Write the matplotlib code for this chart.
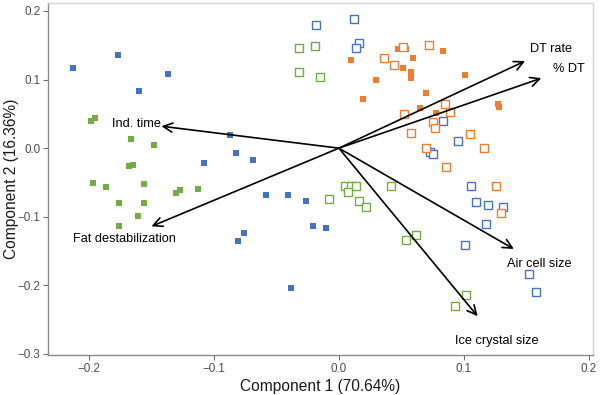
import matplotlib
matplotlib.use("Agg")
import matplotlib.pyplot as plt

plt.rcParams['font.family'] = ['Liberation Sans', 'DejaVu Sans']

# ---- data (PCA scores) ----
blue_filled_x = [-0.213, -0.177, -0.137, -0.160, -0.087, -0.082, -0.108, -0.069, -0.081, -0.076,
                 -0.058, -0.041, -0.026, -0.021, -0.010, -0.038]
blue_filled_y = [0.117, 0.136, 0.108, 0.083, 0.019, -0.007, -0.022, -0.017, -0.135, -0.124,
                 -0.068, -0.068, -0.077, -0.114, -0.117, -0.204]
blue_open_x = [-0.018, 0.012, 0.016, 0.014, 0.083, 0.095, 0.073, 0.075, 0.106, 0.110,
               0.119, 0.131, 0.118, 0.101, 0.152, 0.158]
blue_open_y = [0.179, 0.188, 0.154, 0.146, 0.039, 0.010, -0.006, -0.009, -0.055, -0.079,
               -0.083, -0.086, -0.111, -0.141, -0.184, -0.210]
orange_filled_x = [0.010, 0.047, 0.054, 0.059, 0.051, 0.058, 0.058, 0.030, 0.019, 0.065,
                   0.083, 0.101, 0.070, 0.078, 0.127, 0.128]
orange_filled_y = [0.128, 0.144, 0.144, 0.131, 0.117, 0.111, 0.103, 0.100, 0.071, 0.058,
                   0.141, 0.107, 0.080, 0.051, 0.064, 0.060]
orange_open_x = [0.072, 0.051, 0.036, 0.044, 0.052, 0.058, 0.085, 0.089, 0.075, 0.077,
                 0.105, 0.116, 0.070, 0.086, 0.126, 0.130]
orange_open_y = [0.150, 0.147, 0.131, 0.121, 0.050, 0.022, 0.064, 0.053, 0.038, 0.029,
                 0.020, 0.000, 0.000, -0.028, -0.055, -0.095]
green_filled_x = [-0.198, -0.195, -0.166, -0.148, -0.168, -0.165, -0.197, -0.186, -0.156, -0.176,
                  -0.156, -0.161, -0.176, -0.130, -0.127, -0.113]
green_filled_y = [0.039, 0.044, 0.013, 0.004, -0.026, -0.025, -0.051, -0.057, -0.052, -0.080,
                  -0.080, -0.099, -0.114, -0.066, -0.061, -0.060]
green_open_x = [-0.032, -0.019, -0.032, -0.015, -0.008, 0.005, 0.010, 0.014, 0.007, 0.016,
                0.022, 0.042, 0.054, 0.062, 0.102, 0.093]
green_open_y = [0.146, 0.149, 0.111, 0.104, -0.074, -0.055, -0.055, -0.055, -0.064, -0.077,
                -0.086, -0.055, -0.134, -0.127, -0.214, -0.230]

# ---- loadings (arrows) ----
var_names = ["Ind. time", "Fat destabilization", "DT rate", "% DT", "Air cell size", "Ice crystal size"]
load_x = [-0.142, -0.150, 0.149, 0.162, 0.140, 0.111]
load_y = [0.032, -0.114, 0.127, 0.102, -0.147, -0.245]
label_x = [-0.162, -0.172, 0.170, 0.184, 0.160, 0.126]
label_y = [0.035, -0.133, 0.144, 0.115, -0.169, -0.281]

x_ticks = [-0.2, -0.1, 0.0, 0.1, 0.2]
y_ticks = [-0.3, -0.2, -0.1, 0.0, 0.1, 0.2]

BLUE = '#4472C4'
ORANGE = '#ED7D31'
GREEN = '#70AD47'

fig = plt.figure(figsize=(6, 3.95), dpi=100)
ax = fig.add_axes([0.08, 0.101, 0.908, 0.891])

def filled(x, y, c):
    ax.plot(x, y, linestyle='none', marker='s', markersize=4.8, color=c, markeredgewidth=0, zorder=3)

def hollow(x, y, c):
    ax.plot(x, y, linestyle='none', marker='s', markersize=5.2, markerfacecolor='white',
            markeredgecolor=c, markeredgewidth=1.0, zorder=3)

filled(blue_filled_x, blue_filled_y, BLUE)
hollow(blue_open_x, blue_open_y, BLUE)
filled(orange_filled_x, orange_filled_y, ORANGE)
hollow(orange_open_x, orange_open_y, ORANGE)
filled(green_filled_x, green_filled_y, GREEN)
hollow(green_open_x, green_open_y, GREEN)

for name, lx, ly, tx, ty in zip(var_names, load_x, load_y, label_x, label_y):
    ax.annotate('', xy=(lx, ly), xytext=(0, 0),
                arrowprops=dict(arrowstyle='->,head_length=0.6,head_width=0.3', lw=1.2,
                                color='black', shrinkA=0, shrinkB=0, mutation_scale=11),
                zorder=4)
    ax.text(tx, ty, name, ha='center', va='center', fontsize=9.2, color='black', zorder=5)

ax.set_xlim(-0.2328, 0.2032)
ax.set_ylim(-0.3017, 0.2114)
ax.set_xticks(x_ticks)
ax.set_yticks(y_ticks)
ax.set_xticklabels([f"{v:.1f}".replace('-', '\u2212') for v in x_ticks])
ax.set_yticklabels([f"{v:.1f}".replace('-', '\u2212') for v in y_ticks])
ax.tick_params(axis='both', direction='out', length=3.5, width=0.8, color='#6e6e6e',
               labelsize=8.4, labelcolor='#4d4d4d', pad=2)

for s in ['left', 'bottom']:
    ax.spines[s].set_color('#8a8a8a')
    ax.spines[s].set_linewidth(1.0)
for s in ['top', 'right']:
    ax.spines[s].set_color('#d4d4d4')
    ax.spines[s].set_linewidth(1.0)

ax.set_xlabel('Component 1 (70.64%)', fontsize=11.2, color='#1a1a1a', labelpad=3)
ax.set_ylabel('Component 2 (16.36%)', fontsize=11.2, color='#1a1a1a')
ax.yaxis.set_label_coords(-0.054, 0.5)

fig.savefig('out.png', dpi=100)
